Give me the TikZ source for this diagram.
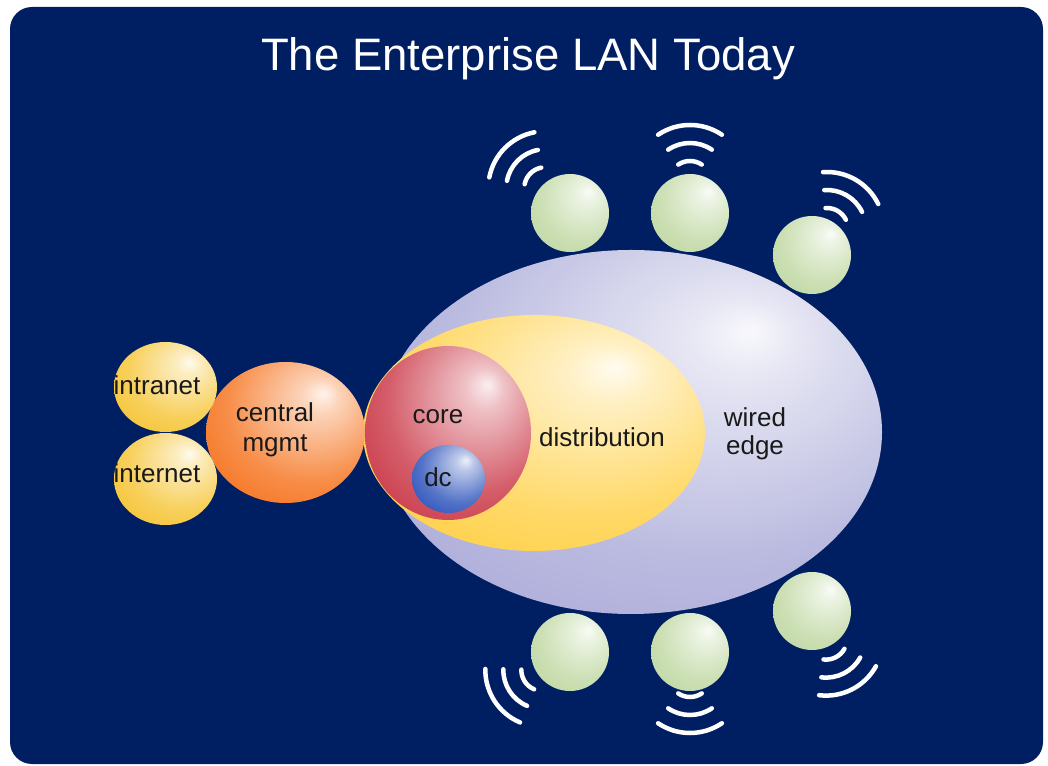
\documentclass[tikz,border=0pt]{standalone}
\usepackage{fontspec}
\setmainfont{Liberation Sans}
\usetikzlibrary{shapes.geometric}

\definecolor{lanblue}{RGB}{0,31,99}
\definecolor{wiredcol}{RGB}{168,168,216}
\definecolor{distcol}{RGB}{255,206,62}
\definecolor{corecol}{RGB}{200,48,64}
\definecolor{dccol}{RGB}{36,76,184}
\definecolor{mgmtcol}{RGB}{245,110,22}
\definecolor{netcol}{RGB}{245,194,44}
\definecolor{apcol}{RGB}{190,215,160}
\definecolor{labeltext}{RGB}{25,25,25}

\colorlet{bubblecol}{white}
\pgfdeclareradialshading[bubblecol]{bubble}{\pgfpoint{12bp}{14bp}}{%
  color(0bp)=(bubblecol!8!white); color(6bp)=(bubblecol!30!white);
  color(26bp)=(bubblecol!78!white); color(42bp)=(bubblecol);
  color(72bp)=(bubblecol!90!black)}

\tikzset{
  sphere/.style={ellipse, inner sep=0pt, shading=bubble,
    /utils/exec={\colorlet{bubblecol}{#1}}},
  ap/.style={sphere=apcol, minimum size=78pt},
  lbl/.style={anchor=base, text=labeltext, align=center,
    font=\fontsize{26}{29}\selectfont},
  wave/.style={draw=white, line width=4.5pt, line cap=round},
}

% ball, direction, offset
\newcommand\apwaves[3]{%
  \foreach \r in {21,39,57}
    \draw[wave] (#1.center) ++(#2:#3) ++(#2-34:\r)
      arc[start angle=#2-34, end angle=#2+34, radius=\r];
}

\begin{document}
\begin{tikzpicture}[x=1pt,y=1pt]
  \useasboundingbox (0,0) rectangle (1048,765);
  \fill[lanblue, rounded corners=22pt] (10,1) rectangle (1043,758);

  \node[text=white, anchor=base, font=\fontsize{45.5}{50}\selectfont]
    (title) at (528,694) {The Enterprise LAN Today};

  \node[sphere=wiredcol, minimum width=502pt, minimum height=364pt] (wired) at (631,333) {};
  \node[sphere=distcol, minimum width=342pt, minimum height=236pt] (dist) at (534,332) {};
  \node[sphere=corecol, minimum width=166pt, minimum height=174pt] (core) at (448,332) {};
  \node[sphere=dccol, minimum width=73pt, minimum height=68pt] (dc) at (448.5,286) {};

  \node[sphere=mgmtcol, minimum width=159pt, minimum height=141pt] (mgmt) at (285.5,332.5) {};
  \node[sphere=netcol, minimum width=103pt, minimum height=90pt] (intranet) at (165.5,378) {};
  \node[sphere=netcol, minimum width=103pt, minimum height=92pt] (internet) at (165.5,286) {};

  \node[ap] (ap1) at (570,552) {};
  \node[ap] (ap2) at (690,552) {};
  \node[ap] (ap3) at (812,510) {};
  \node[ap] (ap4) at (570,113) {};
  \node[ap] (ap5) at (690,113) {};
  \node[ap] (ap6) at (812,154) {};

  \apwaves{ap1}{135}{35}
  \apwaves{ap2}{90}{31}
  \apwaves{ap3}{60}{30}
  \apwaves{ap4}{213}{33}
  \apwaves{ap5}{270}{24}
  \apwaves{ap6}{297}{31}

  \node[lbl] (intranet-l) at (157,370) {intranet};
  \node[lbl] (internet-l) at (157,282) {internet};
  \node[lbl, font=\fontsize{26}{30}\selectfont] (mgmt-l) at (275,313) {central\\mgmt};
  \node[lbl] (core-l) at (438,341) {core};
  \node[lbl] (dc-l) at (438,278) {dc};
  \node[lbl] (dist-l) at (602,318) {distribution};
  \node[lbl, font=\fontsize{26}{28}\selectfont] (wired-l) at (755,310) {wired\\edge};
\end{tikzpicture}
\end{document}
